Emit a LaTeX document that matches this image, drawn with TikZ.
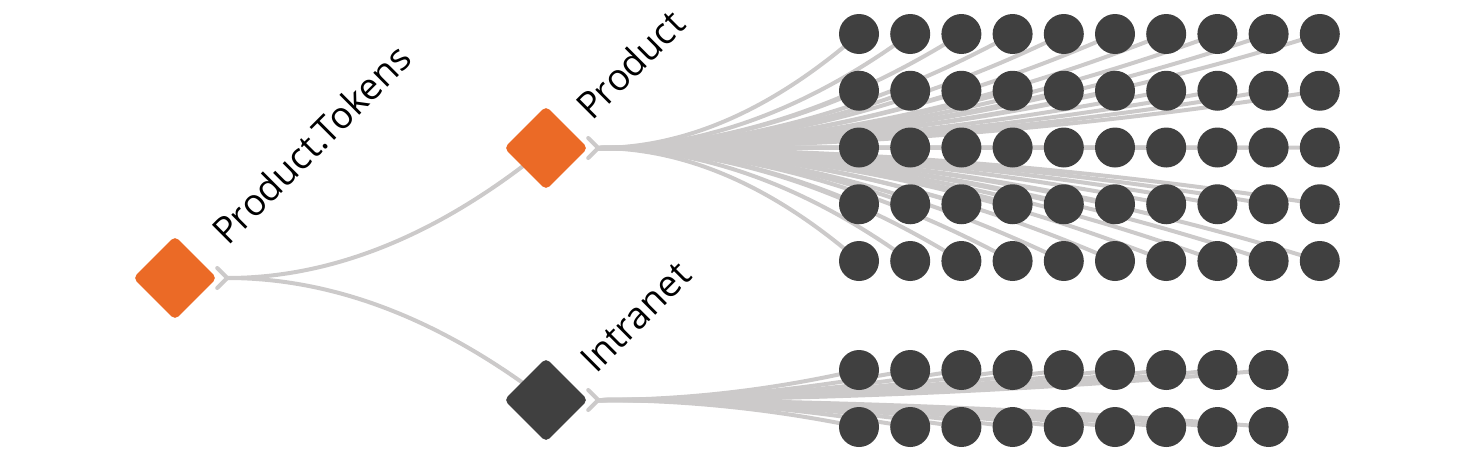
\documentclass[tikz,border=0pt]{standalone}
\usepackage{fontspec}
\setmainfont{Open Sans}
\usetikzlibrary{shapes.geometric,calc,backgrounds}

\definecolor{tokorange}{HTML}{EB6A26}
\definecolor{leafgray}{HTML}{404040}
\definecolor{linkgray}{HTML}{CCCACA}

% curved link, starts level and bends into the target
\newcommand{\treelink}[2]{%
  \draw[link] let \p1=(#1), \p2=(#2.center) in
    (\p1) .. controls ({(2*\x1+\x2)/3}, \y1) and ({(\x1+2*\x2)/3}, {(\y2+2*\y1)/3}) .. (\p2);}

\begin{document}
\begin{tikzpicture}[
        x=1pt, y=-1pt,
        branch/.style={diamond, fill=tokorange, rounded corners=5pt, minimum size=84pt, inner sep=0pt},
        plain/.style={branch, fill=leafgray},
        leaf/.style={circle, fill=leafgray, minimum size=40pt, inner sep=0pt},
        link/.style={draw=linkgray, line width=4pt},
        fork/.style={link, line cap=round, line join=round},
        lbl/.style={anchor=base west, rotate=45, inner sep=0pt, font=\fontsize{37}{44}\selectfont}
    ]
        \useasboundingbox (0,0) rectangle (1462,461);

        % Branch nodes
        \node[branch] (tokens) at (175,278) {};
        \node[branch] (product) at (546,148) {};
        \node[plain] (intranet) at (546,400) {};

        % Labels
        \node[lbl] (tokens-lbl) at ($(tokens)+(53,-31)$) {Product.Tokens};
        \node[lbl] (product-lbl) at ($(product)+(46,-26)$) {Product};
        \node[lbl] (intranet-lbl) at ($(intranet)+(50,-25)$) {Intranet};

        % Fork points
        \coordinate (tokens-out) at ($(tokens.east)+(10,0)$);
        \coordinate (product-out) at ($(product.east)+(10,0)$);
        \coordinate (intranet-out) at ($(intranet.east)+(10,0)$);
        \foreach \n in {tokens,product,intranet}
            \draw[fork] ($(\n-out)+(-10,-10)$) -- (\n-out) -- ($(\n-out)+(-10,10)$);

        % Leaves
        \foreach \r in {0,...,4}
            \foreach \c in {0,...,9}
                \node[leaf] (p-\r-\c) at ({859+51.2*\c}, {34+56.75*\r}) {};
        \foreach \r in {0,1}
            \foreach \c in {0,...,8}
                \node[leaf] (i-\r-\c) at ({859+51.2*\c}, {370+57*\r}) {};

        % Links
        \begin{scope}[on background layer]
            \treelink{tokens-out}{product}
            \treelink{tokens-out}{intranet}
            \foreach \r in {0,...,4}
                \foreach \c in {0,...,9}
                    {\treelink{product-out}{p-\r-\c}}
            \foreach \r in {0,1}
                \foreach \c in {0,...,8}
                    {\treelink{intranet-out}{i-\r-\c}}
        \end{scope}
    \end{tikzpicture}
\end{document}
